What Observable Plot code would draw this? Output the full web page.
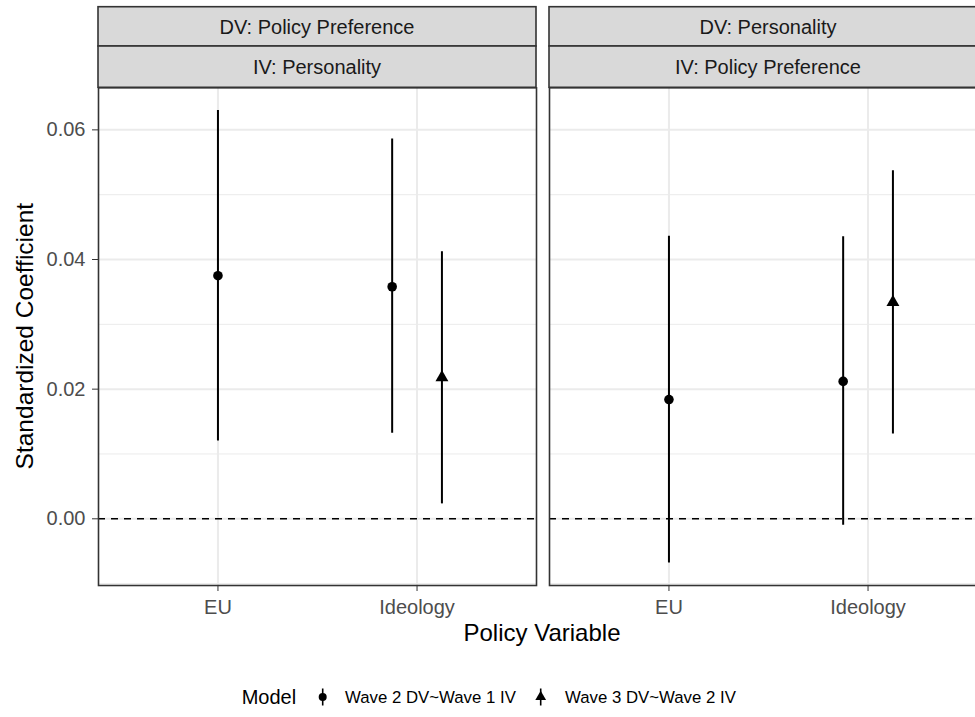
<!DOCTYPE html>
<html><head><meta charset="utf-8">
<script src="https://cdn.jsdelivr.net/npm/d3@7"></script>
<script src="https://cdn.jsdelivr.net/npm/@observablehq/plot@0.6"></script>
<style>
html,body{margin:0;padding:0;background:#fff;}
#wrap{position:relative;width:975px;height:717px;overflow:hidden;background:#fff;font-family:"Liberation Sans",Arial,Helvetica,sans-serif;}
#wrap svg{position:absolute;left:0;top:0;max-width:none !important;}
#wrap svg.plotmain g[aria-label*="axis"] text{fill:#4d4d4d;}
</style></head><body><div id="wrap"></div>
<script>
// ---- data ----
const dvLabels = ["DV: Policy Preference", "DV: Personality"];
const ivLabels = ["IV: Personality", "IV: Policy Preference"];
const variables = ["EU", "Ideology"];
const models = ["Wave 2 DV~Wave 1 IV", "Wave 3 DV~Wave 2 IV"];
const rowPanel = [0, 0, 0, 1, 1, 1];
const rowVariable = ["EU", "Ideology", "Ideology", "EU", "Ideology", "Ideology"];
const rowModel = [models[0], models[0], models[1], models[0], models[0], models[1]];
const estimate = [0.0375, 0.0358, 0.0218, 0.0184, 0.0212, 0.0334];
const lower = [0.0120, 0.0132, 0.0023, -0.0068, -0.0010, 0.0131];
const upper = [0.0630, 0.0586, 0.0412, 0.0436, 0.0435, 0.0537];
const yTicks = [0, 0.02, 0.04, 0.06];
const yMinorTicks = [-0.01, 0.01, 0.03, 0.05];
const xTitle = "Policy Variable";
const yTitle = "Standardized Coefficient";
const legendTitle = "Model";

// ---- build table with dodge ----
const dodgeWidth = 0.5;
const rows = estimate.map((e, i) => ({
  panel: dvLabels[rowPanel[i]], variable: rowVariable[i], model: rowModel[i],
  estimate: e, lower: lower[i], upper: upper[i]
}));
rows.forEach(r => {
  const g = rows.filter(s => s.panel === r.panel && s.variable === r.variable);
  const n = g.length, k = g.indexOf(r);
  r.pos = variables.indexOf(r.variable) + 1 + (k - (n - 1) / 2) * dodgeWidth / n;
});
const lo = d3.min(lower), hi = d3.max(upper), pad = 0.05 * (hi - lo);

const W = 1000, H = 717;
const mT = 87.3, mB = 132, mL = 97, mR = 13;
const R = 4.8;

const chart = Plot.plot({
  width: W, height: H,
  marginTop: mT, marginBottom: mB, marginLeft: mL, marginRight: mR,
  style: {fontFamily: '"Liberation Sans", Arial, Helvetica, sans-serif', fontSize: "20px", color: "#333333", background: "white", overflow: "visible", maxWidth: "none"},
  fx: {domain: dvLabels, axis: null, paddingInner: 0.0299, paddingOuter: 0, label: null},
  x: {domain: [0.4, 2.6], ticks: [1, 2], tickFormat: d => variables[d - 1], tickSize: 6, tickPadding: 8, label: null},
  y: {domain: [lo - pad, hi + pad], ticks: yTicks, tickFormat: d3.format(".2f"), tickSize: 6, tickPadding: 7, label: null},
  symbol: {domain: models, range: ["circle", "triangle"]},
  marks: [
    Plot.ruleY(yMinorTicks, {stroke: "#ebebeb", strokeWidth: 1}),
    Plot.ruleY(yTicks, {stroke: "#ebebeb", strokeWidth: 2}),
    Plot.ruleX([1, 2], {stroke: "#ebebeb", strokeWidth: 2}),
    Plot.ruleY([0], {stroke: "black", strokeWidth: 1.6, strokeDasharray: "7,6"}),
    Plot.ruleX(rows, {fx: "panel", x: "pos", y1: "lower", y2: "upper", stroke: "black", strokeWidth: 2}),
    Plot.dot(rows, {fx: "panel", x: "pos", y: "estimate", symbol: "model", r: R, fill: "black"}),
    Plot.frame({stroke: "#333333", strokeWidth: 1.6})
  ]
});
chart.classList.add("plotmain");
const wrap = document.getElementById("wrap");
wrap.appendChild(chart);

// ---- overlay: strips, titles, legend ----
const fx = chart.scale("fx");
const bw = fx.bandwidth;
const ov = d3.select(wrap).append("svg").attr("width", 975).attr("height", 717)
  .style("font-family", '"Liberation Sans", Arial, Helvetica, sans-serif');
dvLabels.forEach((dv, i) => {
  const x0 = fx.apply(dv);
  const strips = [[6.7, 46, dv], [46, mT, ivLabels[i]]];
  strips.forEach(([y0, y1, label]) => {
    ov.append("rect").attr("x", x0).attr("y", y0).attr("width", bw).attr("height", y1 - y0)
      .attr("fill", "#d9d9d9").attr("stroke", "#333333").attr("stroke-width", 1.6);
    ov.append("text").attr("x", x0 + bw / 2).attr("y", (y0 + y1) / 2 + 7.4)
      .attr("text-anchor", "middle").attr("font-size", 20).attr("fill", "#1a1a1a").text(label);
  });
});
// axis titles
ov.append("text").attr("x", mL + (W - mL - mR) / 2).attr("y", 641)
  .attr("text-anchor", "middle").attr("font-size", 24).attr("fill", "black").text(xTitle);
ov.append("text").attr("transform", `translate(33,${(mT + (H - mB)) / 2}) rotate(-90)`)
  .attr("text-anchor", "middle").attr("font-size", 24.5).attr("fill", "black").text(yTitle);
// legend
const ly = 697;
ov.append("text").attr("x", 241.7).attr("y", ly + 7.2).attr("font-size", 20).attr("fill", "black").text(legendTitle);
const keyX = [322.7, 540.7], labX = [345, 565];
const symTypes = [d3.symbolCircle, d3.symbolTriangle];
models.forEach((m, i) => {
  ov.append("line").attr("x1", keyX[i]).attr("x2", keyX[i]).attr("y1", ly - 8.5).attr("y2", ly + 8.5)
    .attr("stroke", "black").attr("stroke-width", 1.6);
  ov.append("path").attr("transform", `translate(${keyX[i]},${ly})`)
    .attr("d", d3.symbol().type(symTypes[i]).size(Math.PI * 4 * 4)()).attr("fill", "black");
  ov.append("text").attr("x", labX[i]).attr("y", ly + 6).attr("font-size", 16.8).attr("fill", "black").text(m);
});
</script></body></html>
